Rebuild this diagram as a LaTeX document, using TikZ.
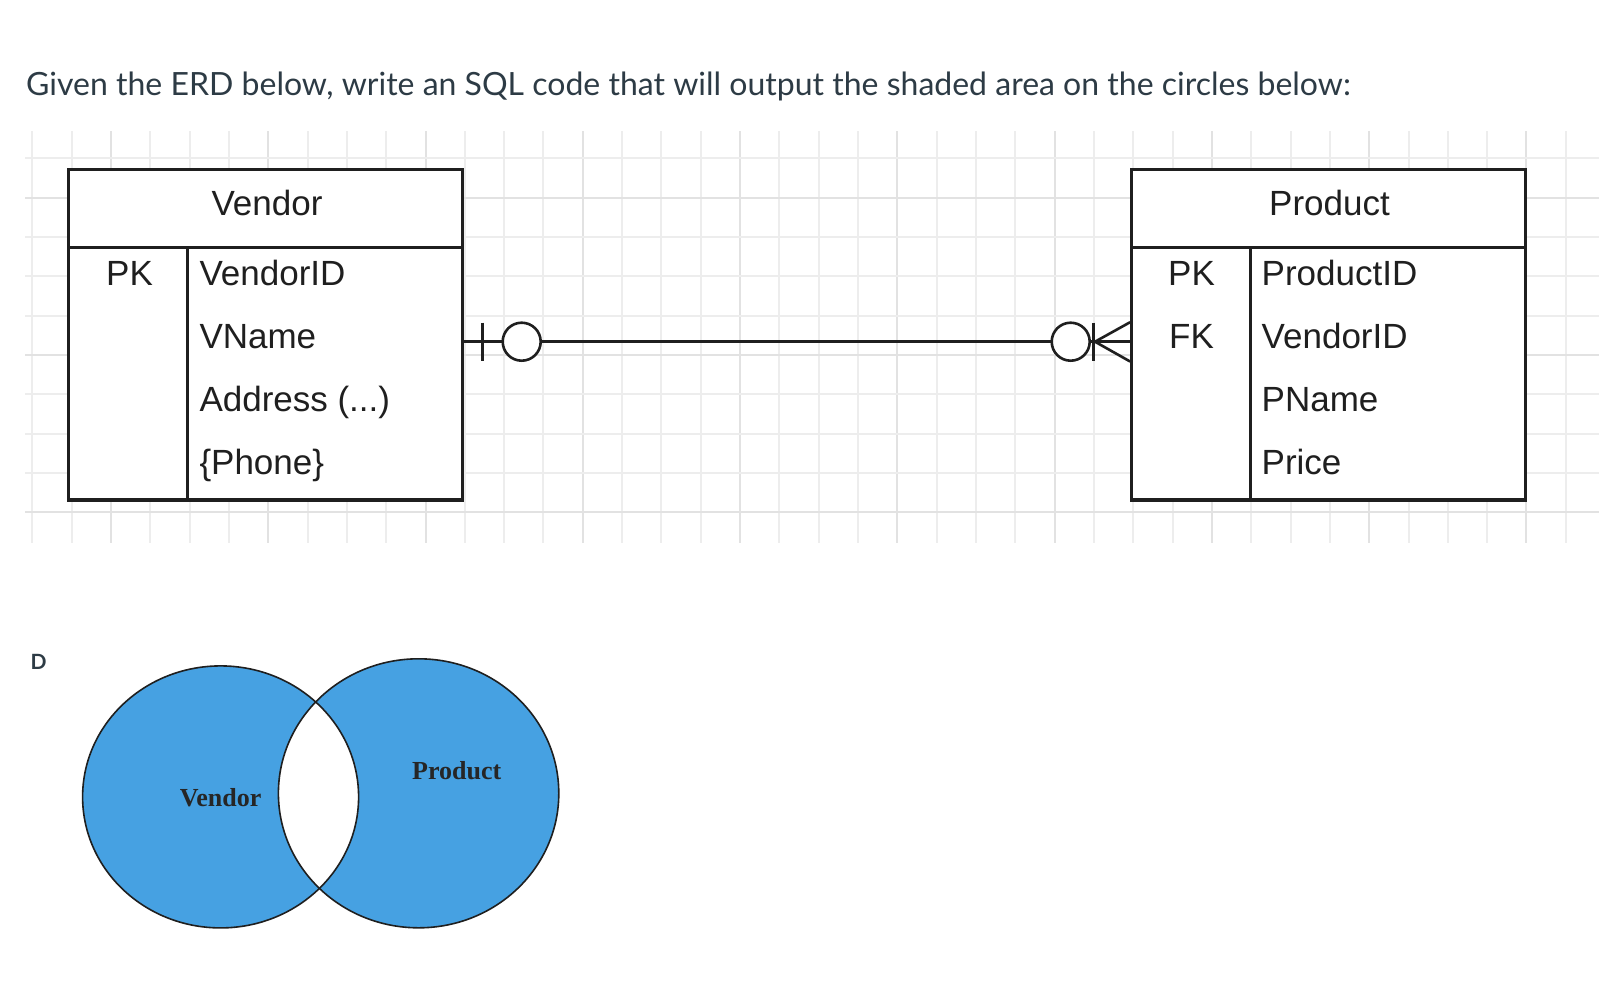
\documentclass[tikz,border=0pt]{standalone}
\usepackage{fontspec}
\newfontfamily\erdfont{Liberation Sans}
\newfontfamily\latofont{Lato}
\newfontfamily\serffont{Liberation Serif}
\definecolor{titlecol}{HTML}{2D3B45}
\definecolor{venncol}{RGB}{70,161,226}
\definecolor{gridminor}{gray}{0.93}
\definecolor{gridmajor}{gray}{0.885}
\definecolor{inkcol}{gray}{0.12}
\begin{document}
\begin{tikzpicture}[x=1pt,y=-1pt,
  gridthin/.style={draw=gridminor, line width=2pt},
  gridthick/.style={draw=gridmajor, line width=2pt},
  erdbox/.style={draw=inkcol, line width=3.2pt, fill=white, minimum width=394pt, minimum height=330.5pt, inner sep=0pt},
  erdline/.style={draw=inkcol, line width=3.2pt},
  conn/.style={draw=inkcol, line width=2.6pt},
  ring/.style={circle, draw=inkcol, line width=2.6pt, fill=white, minimum size=38pt, inner sep=0pt},
  erdtext/.style={font=\erdfont\fontsize{35}{42}\selectfont, text=inkcol, inner sep=0pt},
  attr/.style={erdtext, anchor=base west},
  keytext/.style={erdtext, anchor=base},
  vennline/.style={draw=inkcol, line width=1.6pt},
  vennlabel/.style={font=\serffont\bfseries\fontsize{26}{30}\selectfont, text=black!85, inner sep=0pt}
]
\useasboundingbox (0,0) rectangle (1616,994);
\fill[white] (0,0) rectangle (1616,994);

% grid
\foreach \k in {0,...,39} {
  \pgfmathsetmacro\gx{32.3+39.32*\k}
  \draw[gridthin] (\gx,131) -- (\gx,543);
}
\foreach \k in {2,6,...,38} {
  \pgfmathsetmacro\gx{32.3+39.32*\k}
  \draw[gridthick] (\gx,131) -- (\gx,543);
}
\foreach \j in {0,...,9} {
  \pgfmathsetmacro\gy{158.3+39.32*\j}
  \draw[gridthin] (25,\gy) -- (1599,\gy);
}
\foreach \j in {1,5,9} {
  \pgfmathsetmacro\gy{158.3+39.32*\j}
  \draw[gridthick] (25,\gy) -- (1599,\gy);
}

% title
\node[anchor=base west, inner sep=0pt, font=\latofont\fontsize{32}{38}\selectfont, text=titlecol] (title) at (26,95)
  {Given the ERD below, write an SQL code that will output the shaded area on the circles below:};

% entity boxes
\node[erdbox] (vendor) at (265.85,334.65) {};
\node[erdbox] (product) at (1328.7,334.65) {};

\coordinate (vhead) at (0,247.3);
\coordinate (vdiv) at (187.3,247.3);
\coordinate (pdiv) at (1250.2,247.3);
\draw[erdline] (vendor.west |- vhead) -- (vendor.east |- vhead);
\draw[erdline] (product.west |- vhead) -- (product.east |- vhead);
\draw[erdline] (vdiv) -- (vdiv |- vendor.south);
\draw[erdline] (pdiv) -- (pdiv |- product.south);

% headers
\node[keytext] (vtitle) at (267,215.5) {Vendor};
\node[keytext] (ptitle) at (1329.5,215.5) {Product};

% vendor attributes
\node[keytext] (vpk) at (129.5,285.5) {PK};
\node[attr] (va1) at (199.3,285.5) {VendorID};
\node[attr] (va2) at (199.3,348.5) {VName};
\node[attr] (va3) at (199.3,411.5) {Address (...)};
\node[attr] (va4) at (199.3,474.5) {\{Phone\}};

% product attributes
\node[keytext] (ppk) at (1191.5,285.5) {PK};
\node[keytext] (pfk) at (1191.5,348.5) {FK};
\node[attr] (pa1) at (1261.5,285.5) {ProductID};
\node[attr] (pa2) at (1261.5,348.5) {VendorID};
\node[attr] (pa3) at (1261.5,411.5) {PName};
\node[attr] (pa4) at (1261.5,474.5) {Price};

% relationship
\coordinate (cy) at (0,341.7);
\draw[conn] (vendor.east |- cy) -- (product.west |- cy);
\draw[conn] (482.7,322.7) -- (482.7,361);
\node[ring] (vring) at (521.7,341.7) {};
\node[ring] (pring) at (1070.7,341.7) {};
\draw[conn] (1093.3,322.7) -- (1093.3,361);
\coordinate (foot) at (1095,341.7);
\draw[conn] (product.west |- 0,322.2) -- (foot) -- (product.west |- 0,361.5);

% Venn
\node[anchor=base west, inner sep=0pt, font=\latofont\bfseries\fontsize{21}{25}\selectfont, text=titlecol] (dlab) at (30.5,669.5) {D};
\fill[venncol] (220.6,796.9) ellipse [x radius=138pt, y radius=131pt];
\fill[venncol] (418.6,793.3) ellipse [x radius=140.2pt, y radius=134.5pt];
\begin{scope}
  \clip (220.6,796.9) ellipse [x radius=138pt, y radius=131pt];
  \fill[white] (418.6,793.3) ellipse [x radius=140.2pt, y radius=134.5pt];
\end{scope}
\draw[vennline] (220.6,796.9) ellipse [x radius=138pt, y radius=131pt];
\draw[vennline] (418.6,793.3) ellipse [x radius=140.2pt, y radius=134.5pt];
\node[vennlabel] (vv) at (220.6,798) {Vendor};
\node[vennlabel] (vp) at (456.7,771) {Product};
\end{tikzpicture}
\end{document}
